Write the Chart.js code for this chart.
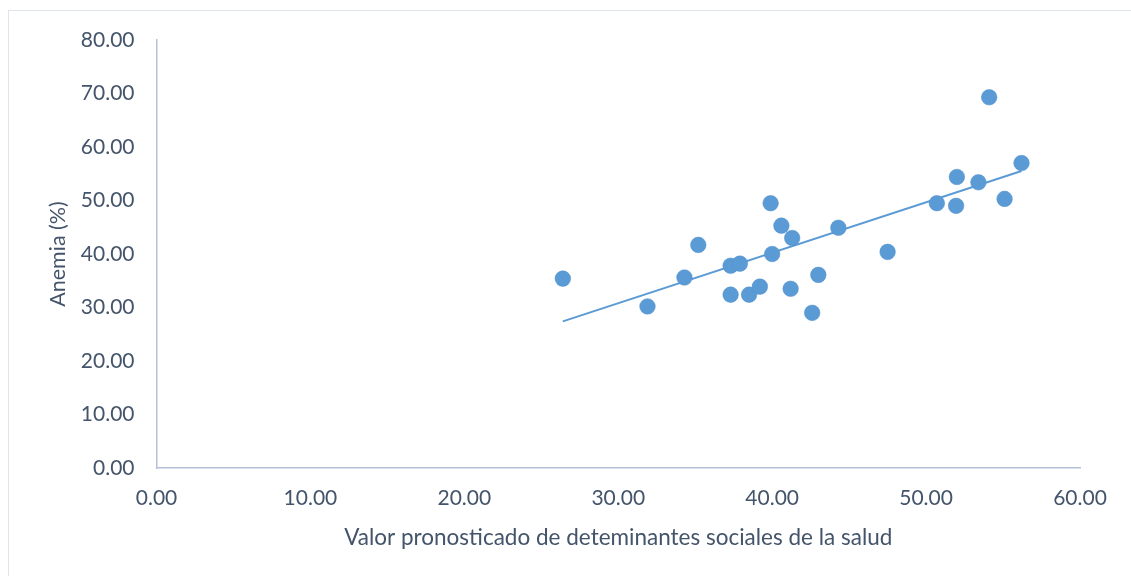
<!DOCTYPE html>
<html>
<head>
<meta charset="utf-8">
<script src="https://cdn.jsdelivr.net/npm/chart.js@4.4.0/dist/chart.umd.min.js"></script>
<style>
  html, body { margin: 0; padding: 0; background: #fff; overflow: hidden; }
  #frame { position: absolute; left: 8px; top: 10px; width: 1140px; height: 600px;
           border-left: 1px solid #DEE3EC; border-top: 1px solid #DEE3EC; }
  #chart { position: absolute; left: 0; top: 0; }
</style>
</head>
<body>
<div id="frame"></div>
<canvas id="chart" width="1131" height="576"></canvas>
<script>
// Valor pronosticado (x) vs Anemia % (y)
var xValues = [26.4, 31.9, 34.3, 35.2, 37.3, 37.9, 37.3, 38.5, 39.2, 39.9, 40.0, 40.6, 41.3,
               41.2, 42.6, 43.0, 44.3, 47.5, 50.7, 52.0, 51.95, 53.4, 54.1, 55.1, 56.2];
var yValues = [35.4, 30.2, 35.6, 41.7, 37.8, 38.2, 32.4, 32.4, 33.9, 49.5, 40.0, 45.3, 43.0,
               33.5, 29.0, 36.1, 44.9, 40.4, 49.5, 54.4, 49.0, 53.4, 69.3, 50.3, 57.0];
// linear trend line ends
var trendX = [26.4, 56.2];
var trendY = [27.4, 55.5];

var xTitle = 'Valor pronosticado de deteminantes sociales de la salud';
var yTitle = 'Anemia (%)';

var blue = '#5B9BD5',
    text = '#44546A',
    axis = '#B4C1D6';

var points = xValues.map(function (x, i) { return { x: x, y: yValues[i] }; });
var trend = trendX.map(function (x, i) { return { x: x, y: trendY[i] }; });

Chart.defaults.font.family = 'Lato, "Open Sans", sans-serif';
Chart.defaults.font.size = 21;
Chart.defaults.color = text;

new Chart(document.getElementById('chart'), {
    type: 'scatter',
    data: {
        datasets: [
            {
                data: points,
                backgroundColor: blue,
                borderColor: '#4F8FCB',
                borderWidth: 0.5,
                pointRadius: 7.8,
                order: 1
            },
            {
                type: 'line',
                data: trend,
                showLine: true,
                borderColor: blue,
                borderWidth: 2,
                pointRadius: 0,
                fill: false,
                order: 2
            }
        ]
    },
    options: {
        responsive: false,
        animation: false,
        devicePixelRatio: 1,
        layout: { padding: { left: 0, top: 40, right: 51, bottom: 0 } },
        plugins: { legend: { display: false }, tooltip: { enabled: false } },
        scales: {
            x: {
                type: 'linear',
                min: 0, max: 60,
                grid: { display: false, drawTicks: false },
                border: { display: true, color: axis, width: 1.5 },
                ticks: {
                    stepSize: 10, padding: 18, maxRotation: 0,
                    callback: function (v) { return v.toFixed(2); }
                },
                title: { display: true, text: xTitle, font: { size: 22.5 }, padding: { bottom: 25 } },
                afterFit: function (s) { s.height = 108; }
            },
            y: {
                type: 'linear',
                min: 0, max: 80,
                grid: { display: false, drawTicks: false },
                border: { display: true, color: axis, width: 1.5 },
                ticks: {
                    stepSize: 10, padding: 22,
                    callback: function (v) { return v.toFixed(2); }
                },
                title: { display: true, text: yTitle, font: { size: 21.5 }, padding: { top: 45 } },
                afterFit: function (s) { s.width = 156.5; }
            }
        }
    }
});
</script>
</body>
</html>
